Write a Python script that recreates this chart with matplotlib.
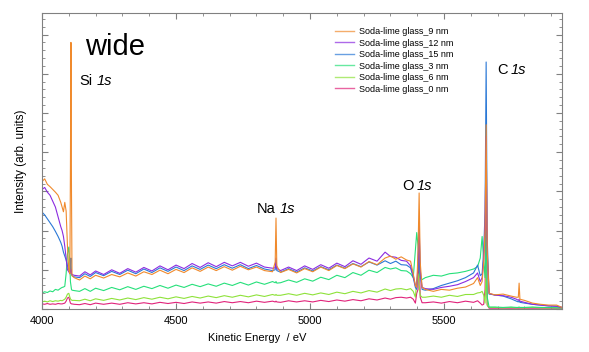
import matplotlib
matplotlib.use("Agg")
import matplotlib.pyplot as plt
from matplotlib.ticker import MultipleLocator
from matplotlib.lines import Line2D

plt.rcParams['font.family'] = ['Liberation Sans', 'DejaVu Sans']

# Kinetic energy grid (eV)
energy = [4000, 4010, 4020, 4030, 4040, 4050, 4060, 4070, 4075, 4080, 4085, 4090, 4095,
          4100, 4104, 4106, 4108, 4110, 4112, 4120,
          4140, 4160, 4180, 4200, 4230, 4260, 4290, 4320, 4350, 4380, 4410, 4440, 4470,
          4500, 4530, 4560, 4590, 4620, 4650, 4680, 4710, 4740, 4770, 4800, 4830, 4860,
          4870, 4873, 4876,
          4890, 4920, 4950, 4980, 5010, 5040, 5070, 5100, 5130, 5160, 5190, 5220, 5250,
          5280, 5300, 5320, 5340, 5360, 5375,
          5385, 5393, 5398, 5403, 5407, 5411, 5418,
          5430, 5460, 5490, 5520, 5550, 5580, 5610, 5625, 5635, 5642, 5648,
          5653, 5657, 5661, 5668,
          5690, 5720, 5750, 5770, 5777, 5780, 5783, 5800, 5830, 5860, 5890, 5920, 5940]

glass_9nm = [3.25, 3.32, 3.18, 3.12, 3.05, 2.98, 2.90, 2.72, 2.60, 2.48, 2.72, 2.50, 1.60,
             1.00, 0.90, 3.50, 6.80, 3.00, 0.85, 0.80,
             0.74, 0.84, 0.77, 0.86, 0.79, 0.88, 0.82, 0.92, 0.84, 0.95, 0.88, 0.99, 0.90,
             1.01, 0.93, 1.05, 0.96, 1.07, 0.98, 1.08, 0.99, 1.09, 1.00, 1.07, 0.98, 0.95,
             1.20, 2.32, 1.10,
             0.93, 1.01, 0.92, 1.03, 0.95, 1.07, 0.98, 1.11, 1.03, 1.15, 1.07, 1.21, 1.13,
             1.30, 1.35, 1.27, 1.33, 1.25, 1.22,
             0.90, 0.60, 0.55, 1.50, 2.96, 1.20, 0.55,
             0.50, 0.45, 0.50, 0.48, 0.53, 0.56, 0.65, 0.80, 0.60, 0.70, 1.20,
             2.00, 4.70, 1.50, 0.40,
             0.36, 0.38, 0.33, 0.30, 0.30, 0.66, 0.25, 0.22, 0.15, 0.12, 0.10, 0.10, 0.04]

glass_12nm = [3.05, 3.10, 2.98, 2.90, 2.75, 2.60, 2.35, 2.10, 2.00, 1.85, 1.60, 1.30, 1.00,
              0.95, 0.90, 1.00, 1.00, 0.90, 0.88, 0.86,
              0.84, 0.95, 0.87, 0.97, 0.88, 1.00, 0.91, 1.03, 0.94, 1.06, 0.97, 1.10, 1.00,
              1.12, 1.03, 1.16, 1.06, 1.18, 1.08, 1.19, 1.10, 1.19, 1.09, 1.17, 1.07, 1.04,
              1.05, 1.30, 1.03,
              0.98, 1.07, 0.98, 1.10, 1.01, 1.13, 1.04, 1.17, 1.08, 1.23, 1.14, 1.30, 1.22,
              1.45, 1.34, 1.32, 1.24, 1.22, 1.10,
              0.85, 0.60, 0.55, 1.20, 2.20, 1.00, 0.55,
              0.52, 0.50, 0.55, 0.58, 0.62, 0.70, 0.80, 0.92, 0.70, 0.80, 1.30,
              2.20, 4.40, 1.40, 0.40,
              0.35, 0.34, 0.30, 0.25, 0.22, 0.25, 0.20, 0.17, 0.12, 0.10, 0.08, 0.07, 0.04]

glass_15nm = [2.47, 2.40, 2.30, 2.20, 2.10, 1.98, 1.85, 1.70, 1.60, 1.45, 1.35, 1.25, 1.10,
              1.00, 0.92, 1.10, 1.30, 0.90, 0.85, 0.82,
              0.80, 0.90, 0.83, 0.93, 0.85, 0.96, 0.88, 0.99, 0.90, 1.02, 0.93, 1.05, 0.96,
              1.07, 0.98, 1.10, 1.01, 1.12, 1.03, 1.13, 1.04, 1.13, 1.03, 1.11, 1.02, 0.98,
              1.00, 1.25, 0.98,
              0.94, 1.03, 0.94, 1.05, 0.97, 1.08, 1.00, 1.12, 1.04, 1.16, 1.08, 1.20, 1.12,
              1.23, 1.16, 1.22, 1.13, 1.12, 1.05,
              0.80, 0.55, 0.50, 1.10, 2.00, 0.90, 0.50,
              0.48, 0.52, 0.60, 0.66, 0.72, 0.80, 0.92, 1.12, 0.85, 0.90, 1.50,
              2.50, 6.30, 1.80, 0.38,
              0.36, 0.33, 0.26, 0.20, 0.18, 0.20, 0.17, 0.15, 0.12, 0.10, 0.08, 0.07, 0.04]

glass_3nm = [0.41, 0.44, 0.42, 0.46, 0.44, 0.50, 0.48, 0.53, 0.55, 0.56, 0.58, 0.90, 1.40,
             1.58, 1.10, 0.70, 0.60, 0.50, 0.48, 0.47,
             0.45, 0.52, 0.45, 0.53, 0.47, 0.55, 0.49, 0.57, 0.50, 0.58, 0.52, 0.60, 0.53,
             0.61, 0.55, 0.63, 0.57, 0.64, 0.58, 0.66, 0.60, 0.68, 0.61, 0.69, 0.63, 0.70,
             0.67, 0.70, 0.66,
             0.67, 0.74, 0.68, 0.77, 0.71, 0.81, 0.75, 0.86, 0.80, 0.93, 0.86, 0.99, 0.93,
             1.06, 1.02, 1.05, 0.98, 0.97, 0.90,
             0.80, 1.50, 1.95, 1.60, 1.00, 0.80, 0.75,
             0.80, 0.86, 0.84, 0.90, 0.92, 0.96, 1.02, 1.08, 1.30, 1.85, 1.20,
             0.80, 2.00, 0.30, 0.05,
             0.05, 0.04, 0.05, 0.04, 0.04, 0.05, 0.04, 0.04, 0.05, 0.04, 0.04, 0.03, 0.03]

glass_6nm = [0.18, 0.20, 0.18, 0.21, 0.19, 0.21, 0.20, 0.22, 0.21, 0.23, 0.25, 0.30, 0.38,
             0.40, 0.30, 0.26, 0.24, 0.23, 0.22, 0.22,
             0.21, 0.25, 0.21, 0.26, 0.22, 0.27, 0.23, 0.28, 0.24, 0.29, 0.25, 0.30, 0.26,
             0.31, 0.27, 0.32, 0.28, 0.33, 0.29, 0.34, 0.30, 0.35, 0.31, 0.36, 0.32, 0.37,
             0.35, 0.37, 0.35,
             0.35, 0.39, 0.35, 0.40, 0.36, 0.41, 0.37, 0.43, 0.39, 0.45, 0.41, 0.47, 0.43,
             0.51, 0.47, 0.51, 0.52, 0.49, 0.52,
             0.45, 0.30, 0.70, 0.90, 0.60, 0.35, 0.30,
             0.30, 0.33, 0.30, 0.35, 0.32, 0.37, 0.37, 0.41, 0.42, 0.45, 0.35,
             0.15, 1.00, 0.10, 0.04,
             0.04, 0.03, 0.04, 0.03, 0.04, 0.04, 0.03, 0.03, 0.04, 0.03, 0.03, 0.03, 0.03]

glass_0nm = [0.13, 0.12, 0.14, 0.12, 0.13, 0.12, 0.14, 0.13, 0.13, 0.14, 0.15, 0.20, 0.28,
             0.30, 0.20, 0.15, 0.14, 0.13, 0.13, 0.12,
             0.11, 0.14, 0.11, 0.15, 0.12, 0.15, 0.12, 0.16, 0.13, 0.16, 0.13, 0.17, 0.14,
             0.17, 0.14, 0.18, 0.15, 0.18, 0.15, 0.19, 0.16, 0.19, 0.16, 0.20, 0.17, 0.20,
             0.18, 0.20, 0.18,
             0.17, 0.21, 0.18, 0.21, 0.18, 0.22, 0.19, 0.23, 0.20, 0.24, 0.21, 0.26, 0.23,
             0.28, 0.25, 0.29, 0.30, 0.28, 0.30,
             0.25, 0.15, 0.40, 0.50, 1.60, 0.30, 0.16,
             0.16, 0.18, 0.15, 0.19, 0.16, 0.20, 0.17, 0.21, 0.15, 0.10, 0.12,
             0.50, 3.40, 0.10, 0.02,
             0.02, 0.02, 0.02, 0.02, 0.02, 0.02, 0.02, 0.02, 0.02, 0.02, 0.02, 0.02, 0.02]

series_labels = ["Soda-lime glass_9 nm", "Soda-lime glass_12 nm", "Soda-lime glass_15 nm",
                 "Soda-lime glass_3 nm", "Soda-lime glass_6 nm", "Soda-lime glass_0 nm"]
series_values = [glass_9nm, glass_12nm, glass_15nm, glass_3nm, glass_6nm, glass_0nm]
series_colors = ['#f08a2c', '#8b2be0', '#2a78d6', '#26e07a', '#8ee23a', '#e0237a']

peak_elements = ["Si", "Na", "O", "C"]
peak_orbital = "1s"

for v in series_values:
    assert len(v) == len(energy)

fig = plt.figure(figsize=(5.89, 3.52), dpi=100)
ax = fig.add_axes([42/589, 1 - 309/352, 520/589, 296/352])

# draw order: bottom series first, orange on top
for idx in [5, 4, 3, 2, 1, 0]:
    ax.plot(energy, series_values[idx], color=series_colors[idx], lw=0.8)

ax.set_xlim(4000, 5940)
ax.set_ylim(0, 7.55)
ax.xaxis.set_major_locator(MultipleLocator(500))
ax.xaxis.set_minor_locator(MultipleLocator(100))
ax.yaxis.set_major_locator(MultipleLocator(1))
ax.yaxis.set_minor_locator(MultipleLocator(0.2))
ax.tick_params(which='both', direction='in', top=True, right=True, color='#808080')
ax.tick_params(which='major', length=4, width=0.8, labelsize=8, pad=5)
ax.tick_params(which='minor', length=2.2, width=0.6)
ax.tick_params(axis='y', which='both', labelleft=False)
for s in ax.spines.values():
    s.set_color('#808080')
    s.set_linewidth(0.8)

ax.set_xlabel("Kinetic Energy  / eV", fontsize=8)
ax.xaxis.set_label_coords((257 - 42) / 520, (309 - 333) / 296)
ax.set_ylabel("Intensity (arb. units)", fontsize=8.5)
ax.yaxis.set_label_coords((27 - 42) / 520, 0.5)

def px(xp, yp):
    return ((xp - 42) / 520, (309 - yp) / 296)

ax.text(*px(85, 55), "wide", transform=ax.transAxes, fontsize=21, va='baseline', ha='left')

label_pos = [((79, 97), 85), ((257, 280), 213), ((402, 417), 190), ((497, 511), 74)]
for el, ((x_el, x_orb), yb) in zip(peak_elements, label_pos):
    ax.text(*px(x_el, yb), el, transform=ax.transAxes, fontsize=10.5, va='baseline')
    ax.text(*px(x_orb, yb), peak_orbital, transform=ax.transAxes, fontsize=10.5,
            va='baseline', style='italic')

handles = [Line2D([0], [0], color=c, lw=1.0, alpha=0.7) for c in series_colors]
ax.legend(handles, series_labels, loc='upper left', bbox_to_anchor=px(335, 27),
          frameon=False, fontsize=6.5, handlelength=2.1, handletextpad=0.6,
          labelspacing=0.28, borderpad=0, borderaxespad=0)

fig.savefig("out.png", dpi=100)
